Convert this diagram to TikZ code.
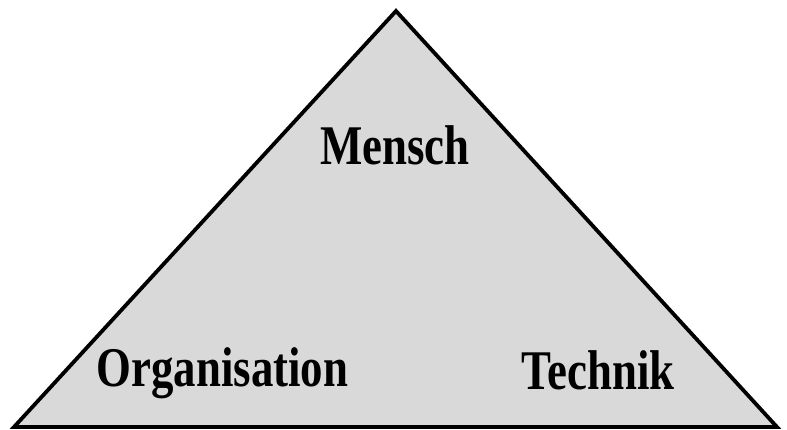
\documentclass[tikz,border=0pt]{standalone}
\usepackage{fontspec}
\setmainfont{Liberation Serif}
\definecolor{trifill}{RGB}{217,217,217}
\tikzset{
  lbl/.style={anchor=base, inner sep=0pt, font=\fontsize{56}{60}\selectfont\bfseries},
  tri/.style={draw=black, fill=trifill, line width=3.8pt, line join=miter}
}
\newcommand{\cond}[1]{\scalebox{0.80}[1]{#1}}
\begin{document}
\begin{tikzpicture}[x=1pt,y=1pt]
\useasboundingbox (0,0) rectangle (787,430);
\coordinate (top) at (396,419);
\coordinate (bl) at (14,3);
\coordinate (br) at (777,3);
\draw[tri] (top) -- (br) -- (bl) -- cycle;
\node[lbl] (mensch) at (395,265) {\cond{Mensch}};
\node[lbl] (org) at (222.5,43) {\cond{Organisation}};
\node[lbl] (tech) at (598,40) {\cond{Technik}};
\end{tikzpicture}
\end{document}
